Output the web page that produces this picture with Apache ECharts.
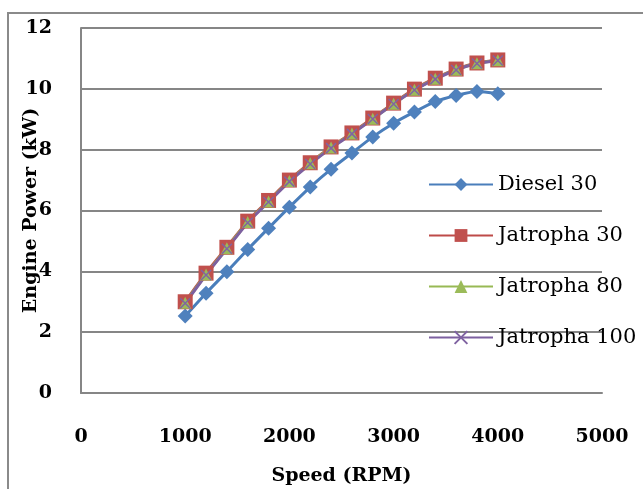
<!DOCTYPE html>
<html><head><meta charset="utf-8">
<script src="https://cdn.jsdelivr.net/npm/echarts@6/dist/echarts.min.js"></script>
<style>html,body{margin:0;padding:0;background:#fff}#c{width:643px;height:489px}</style>
</head><body><div id="c"></div>
<script>
const speeds = [1000,1200,1400,1600,1800,2000,2200,2400,2600,2800,3000,3200,3400,3600,3800,4000];
const diesel30 = [2.53,3.28,3.99,4.72,5.42,6.11,6.77,7.36,7.89,8.42,8.87,9.24,9.58,9.78,9.91,9.84];
const jatropha30 = [3.00,3.94,4.79,5.65,6.33,7.00,7.57,8.09,8.55,9.04,9.53,9.99,10.35,10.65,10.85,10.95];
const jatropha80 = [2.97,3.90,4.76,5.62,6.30,6.97,7.55,8.07,8.53,9.02,9.51,9.97,10.33,10.63,10.84,10.94];
const jatropha100 = [2.95,3.88,4.74,5.60,6.28,6.95,7.53,8.05,8.52,9.01,9.50,9.96,10.32,10.62,10.83,10.93];
const seriesNames = ['Diesel 30','Jatropha 30','Jatropha 80','Jatropha 100'];
const xTicks = [0,1000,2000,3000,4000,5000];
const yTicks = [0,2,4,6,8,10,12];

const pair = arr => speeds.map((s,i)=>[s,arr[i]]);
const chart = echarts.init(document.getElementById('c'), null, {renderer:'canvas'});
const serif = 'DejaVu Serif';
function mk(name, data, color, symbol, size, extra){
  return Object.assign({
    name, type:'line', data: pair(data), smooth:0.25, symbol, symbolSize:size,
    lineStyle:{color, width:3}, itemStyle:{color}, z:2
  }, extra||{});
}
chart.setOption({
  animation:false,
  graphic:[{type:'rect', shape:{x:8,y:13,width:700,height:600}, style:{fill:'none', stroke:'#8a8a8a', lineWidth:2}, z:-10}],
  grid:{left:81,right:41,top:28,bottom:96, containLabel:false, outerBoundsMode:'none'},
  legend:{
    orient:'vertical', left:423, top:169, itemWidth:64, itemHeight:16, itemGap:30,
    textStyle:{fontFamily:serif, fontSize:21, color:'#000', padding:[0,0,0,0]},
    data: seriesNames
  },
  xAxis:{
    type:'value', min:0, max:5000, interval:1000,
    name:'Speed (RPM)', nameLocation:'middle', nameGap:74, nameMoveOverlap:false,
    nameTextStyle:{fontFamily:serif, fontWeight:'bold', fontSize:19, color:'#000'},
    axisLine:{show:true, lineStyle:{color:'#868686', width:2}},
    axisTick:{show:false}, splitLine:{show:false},
    axisLabel:{fontFamily:serif, fontWeight:'bold', fontSize:19, color:'#000', margin:35,
      formatter: v => xTicks.includes(v) ? String(v) : ''}
  },
  yAxis:{
    type:'value', min:0, max:12, interval:2,
    name:'Engine Power (kW)', nameLocation:'middle', nameGap:40, nameMoveOverlap:false,
    nameTextStyle:{fontFamily:serif, fontWeight:'bold', fontSize:19, color:'#000'},
    axisLine:{show:true, lineStyle:{color:'#868686', width:2}},
    axisTick:{show:false},
    splitLine:{show:true, lineStyle:{color:'#868686', width:2}},
    axisLabel:{fontFamily:serif, fontWeight:'bold', fontSize:19, color:'#000', margin:29,
      formatter: v => yTicks.includes(v) ? String(v) : ''}
  },
  series:[
    mk(seriesNames[0], diesel30, '#4A7EBB', 'diamond', 15, {itemStyle:{color:'#4F81BD'}}),
    mk(seriesNames[1], jatropha30, '#BE4B48', 'rect', 15, {itemStyle:{color:'#C0504D'}}),
    mk(seriesNames[2], jatropha80, '#98B954', 'triangle', 12, {itemStyle:{color:'#9BBB59'}}),
    mk(seriesNames[3], jatropha100, '#7D60A0', 'path://M0,0L10,10M10,0L0,10', 10, {itemStyle:{color:'none', borderColor:'#8064A2', borderWidth:1.5}})
  ]
});
</script></body></html>
